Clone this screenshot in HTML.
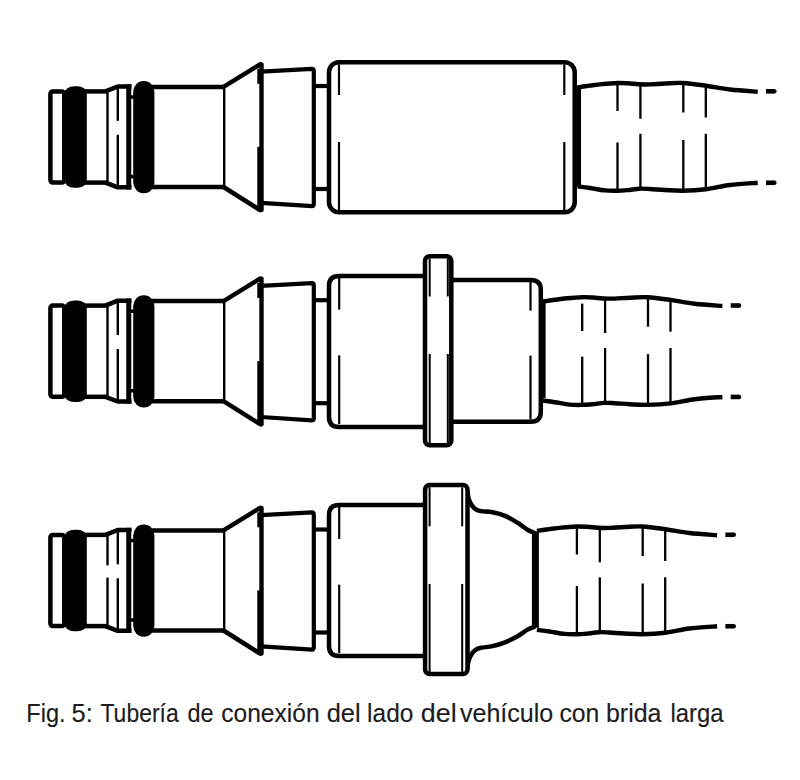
<!DOCTYPE html>
<html><head><meta charset="utf-8"><style>
html,body{margin:0;padding:0;background:#fff;}
body{width:800px;height:780px;overflow:hidden;}
svg{display:block;}
</style></head><body>
<svg width="800" height="780" viewBox="0 0 800 780">
<rect x="0" y="0" width="800" height="780" fill="#fff"/>
<g stroke="#000" fill="none">
<rect x="50.4" y="91.4" width="13.9" height="91.2" rx="2.5" stroke-width="4.5" fill="none"/>
<rect x="64.6" y="86.2" width="22.2" height="101.6" rx="9.5" ry="7" stroke="none" fill="#000"/>
<line x1="84" y1="91.4" x2="107.6" y2="91.4" stroke-width="4.5" stroke-linecap="butt"/>
<line x1="84" y1="182.6" x2="107.6" y2="182.6" stroke-width="4.5" stroke-linecap="butt"/>
<line x1="107.5" y1="91.4" x2="107.5" y2="182.6" stroke-width="2.4" stroke-linecap="butt"/>
<path d="M105.5 91.4 L117.7 86.5 L131.5 86.5" stroke-width="4.5" fill="none" stroke-linejoin="round"/>
<path d="M105.5 182.6 L117.7 187.3 L131.5 187.3" stroke-width="4.5" fill="none" stroke-linejoin="round"/>
<line x1="128.75" y1="84.3" x2="128.75" y2="189.5" stroke-width="5" stroke-linecap="butt"/>
<line x1="117.8" y1="86.5" x2="117.8" y2="120.8" stroke-width="2.4" stroke-linecap="butt"/>
<line x1="117.8" y1="134.8" x2="117.8" y2="187.3" stroke-width="2.4" stroke-linecap="butt"/>
<rect x="130" y="95.3" width="4.5" height="3.5" stroke="none" fill="#000"/>
<rect x="130" y="174.8" width="4.5" height="3.5" stroke="none" fill="#000"/>
<rect x="133.2" y="81" width="21.2" height="112.2" rx="10.4" ry="11" stroke="none" fill="#000"/>
<line x1="152" y1="86.9" x2="225" y2="86.9" stroke-width="4.5" stroke-linecap="butt"/>
<line x1="152" y1="187" x2="225" y2="187" stroke-width="4.5" stroke-linecap="butt"/>
<line x1="224.2" y1="86.9" x2="224.2" y2="187" stroke-width="2.4" stroke-linecap="butt"/>
<path d="M223.5 86.9 L260 64.4" stroke-width="4.5" fill="none" stroke-linecap="round"/>
<path d="M223.5 187 L260 210" stroke-width="4.5" fill="none" stroke-linecap="round"/>
<line x1="261.5" y1="64.4" x2="261.5" y2="210" stroke-width="4.4" stroke-linecap="round"/>
<rect x="257.3" y="68.8" width="2.7" height="15" stroke="none" fill="#000"/>
<rect x="257.3" y="146.9" width="2.7" height="63.1" stroke="none" fill="#000"/>
<path d="M261 71.6 L312 68.9 Q313.8 68.9 313.8 71.3 L313.8 203.8 Q313.8 206.1 312 206.1 L261 202.8" stroke-width="4.2" fill="none" stroke-linejoin="round"/>
<line x1="313" y1="86" x2="330" y2="86" stroke-width="4.2" stroke-linecap="butt"/>
<line x1="313" y1="189" x2="330" y2="189" stroke-width="4.2" stroke-linecap="butt"/>
<rect x="329" y="62.2" width="245.7" height="150.1" rx="10" stroke-width="4.5" fill="none"/>
<line x1="339" y1="64.4" x2="339" y2="95" stroke-width="2.2" stroke-linecap="butt"/>
<line x1="339" y1="142" x2="339" y2="210.1" stroke-width="2.2" stroke-linecap="butt"/>
<line x1="564.3" y1="64.4" x2="564.3" y2="95" stroke-width="2.2" stroke-linecap="butt"/>
<line x1="564.3" y1="142" x2="564.3" y2="210.1" stroke-width="2.2" stroke-linecap="butt"/>
<path d="M577.5 87.4 C579.58 87.1 585.92 86.15 590 85.6 C594.08 85.05 597.5 84.53 602 84.1 C606.5 83.67 612.67 83.13 617 83 C621.33 82.87 624.42 83.08 628 83.3 C631.58 83.52 634.83 84.12 638.5 84.3 C642.17 84.48 645.58 84.53 650 84.4 C654.42 84.27 659.5 83.73 665 83.5 C670.5 83.27 676.17 82.63 683 83 C689.83 83.37 698.17 84.62 706 85.7 C713.83 86.78 721.38 88.48 730 89.5 C738.62 90.52 753.08 91.42 757.7 91.8" stroke-width="4.4" fill="none"/>
<path d="M577.5 186.3 C579.58 186.58 585.42 187.32 590 188 C594.58 188.68 600.5 189.95 605 190.4 C609.5 190.85 613.25 190.75 617 190.7 C620.75 190.65 623.75 190.43 627.5 190.1 C631.25 189.77 635.75 188.88 639.5 188.7 C643.25 188.52 645.75 188.78 650 189 C654.25 189.22 659.5 189.72 665 190 C670.5 190.28 676.17 190.83 683 190.7 C689.83 190.57 698.17 190.15 706 189.2 C713.83 188.25 721.38 186.07 730 185 C738.62 183.93 753.08 183.12 757.7 182.75" stroke-width="4.4" fill="none"/>
<line x1="766" y1="91.3" x2="774.3" y2="91.3" stroke-width="4.6" stroke-linecap="butt"/>
<circle cx="774.3" cy="91.3" r="2.3" stroke="none" fill="#000"/>
<line x1="766" y1="182.75" x2="774.3" y2="182.75" stroke-width="4.6" stroke-linecap="butt"/>
<circle cx="774.3" cy="182.75" r="2.3" stroke="none" fill="#000"/>
<line x1="578.7" y1="86.2" x2="578.7" y2="186.2" stroke-width="4.6" stroke-linecap="butt"/>
<line x1="617.5" y1="84.8" x2="617.5" y2="111" stroke-width="2.3" stroke-linecap="butt"/>
<line x1="617.5" y1="142.5" x2="617.5" y2="189.8" stroke-width="2.3" stroke-linecap="butt"/>
<line x1="640.4" y1="85.8" x2="640.4" y2="118.8" stroke-width="2.3" stroke-linecap="butt"/>
<line x1="640.4" y1="133.8" x2="640.4" y2="187.3" stroke-width="2.3" stroke-linecap="butt"/>
<line x1="683.3" y1="83.8" x2="683.3" y2="112.5" stroke-width="2.3" stroke-linecap="butt"/>
<line x1="683.3" y1="140" x2="683.3" y2="190.8" stroke-width="2.3" stroke-linecap="butt"/>
<line x1="705.8" y1="84.8" x2="705.8" y2="117.5" stroke-width="2.3" stroke-linecap="butt"/>
<line x1="705.8" y1="133.8" x2="705.8" y2="188.8" stroke-width="2.3" stroke-linecap="butt"/>
<rect x="50.4" y="305.6" width="13.9" height="91.2" rx="2.5" stroke-width="4.5" fill="none"/>
<rect x="64.6" y="300.4" width="22.2" height="101.6" rx="9.5" ry="7" stroke="none" fill="#000"/>
<line x1="84" y1="305.6" x2="107.6" y2="305.6" stroke-width="4.5" stroke-linecap="butt"/>
<line x1="84" y1="396.8" x2="107.6" y2="396.8" stroke-width="4.5" stroke-linecap="butt"/>
<line x1="107.5" y1="305.6" x2="107.5" y2="396.8" stroke-width="2.4" stroke-linecap="butt"/>
<path d="M105.5 305.6 L117.7 300.7 L131.5 300.7" stroke-width="4.5" fill="none" stroke-linejoin="round"/>
<path d="M105.5 396.8 L117.7 401.5 L131.5 401.5" stroke-width="4.5" fill="none" stroke-linejoin="round"/>
<line x1="128.75" y1="298.5" x2="128.75" y2="403.7" stroke-width="5" stroke-linecap="butt"/>
<line x1="117.8" y1="300.7" x2="117.8" y2="335" stroke-width="2.4" stroke-linecap="butt"/>
<line x1="117.8" y1="349" x2="117.8" y2="401.5" stroke-width="2.4" stroke-linecap="butt"/>
<rect x="130" y="309.5" width="4.5" height="3.5" stroke="none" fill="#000"/>
<rect x="130" y="389" width="4.5" height="3.5" stroke="none" fill="#000"/>
<rect x="133.2" y="295.2" width="21.2" height="112.2" rx="10.4" ry="11" stroke="none" fill="#000"/>
<line x1="152" y1="301.1" x2="225" y2="301.1" stroke-width="4.5" stroke-linecap="butt"/>
<line x1="152" y1="401.2" x2="225" y2="401.2" stroke-width="4.5" stroke-linecap="butt"/>
<line x1="224.2" y1="301.1" x2="224.2" y2="401.2" stroke-width="2.4" stroke-linecap="butt"/>
<path d="M223.5 301.1 L260 278.6" stroke-width="4.5" fill="none" stroke-linecap="round"/>
<path d="M223.5 401.2 L260 424.2" stroke-width="4.5" fill="none" stroke-linecap="round"/>
<line x1="261.5" y1="278.6" x2="261.5" y2="424.2" stroke-width="4.4" stroke-linecap="round"/>
<rect x="257.3" y="283" width="2.7" height="15" stroke="none" fill="#000"/>
<rect x="257.3" y="361.1" width="2.7" height="63.1" stroke="none" fill="#000"/>
<path d="M261 285.8 L312 283.1 Q313.8 283.1 313.8 285.5 L313.8 418 Q313.8 420.3 312 420.3 L261 417" stroke-width="4.2" fill="none" stroke-linejoin="round"/>
<line x1="313" y1="300.2" x2="330" y2="300.2" stroke-width="4.2" stroke-linecap="butt"/>
<line x1="313" y1="403.2" x2="330" y2="403.2" stroke-width="4.2" stroke-linecap="butt"/>
<path d="M425 276 L339 276 Q329 276 329 286 L329 416.9 Q329 426.9 339 426.9 L425 426.9" stroke-width="4.5" fill="none"/>
<line x1="339.2" y1="277" x2="339.2" y2="309.6" stroke-width="2.2" stroke-linecap="butt"/>
<line x1="339.2" y1="355.4" x2="339.2" y2="424" stroke-width="2.2" stroke-linecap="butt"/>
<path d="M451 279.9 L530.8 279.9 Q540.8 279.9 540.8 289.9 L540.8 411.7 Q540.8 421.7 530.8 421.7 L451 421.7" stroke-width="4.5" fill="none"/>
<line x1="530.5" y1="281.5" x2="530.5" y2="310.6" stroke-width="2.2" stroke-linecap="butt"/>
<line x1="530.5" y1="355.6" x2="530.5" y2="419.5" stroke-width="2.2" stroke-linecap="butt"/>
<rect x="425" y="256.3" width="26.3" height="189" rx="4.5" stroke-width="4.5" fill="#fff"/>
<line x1="429.7" y1="258.5" x2="429.7" y2="296.5" stroke-width="2" stroke-linecap="butt"/>
<line x1="429.7" y1="354" x2="429.7" y2="444" stroke-width="2" stroke-linecap="butt"/>
<line x1="447.8" y1="258.5" x2="447.8" y2="296.5" stroke-width="2" stroke-linecap="butt"/>
<line x1="447.8" y1="354" x2="447.8" y2="444" stroke-width="2" stroke-linecap="butt"/>
<path d="M542.2 301.6 C544.28 301.3 550.62 300.35 554.7 299.8 C558.78 299.25 562.2 298.73 566.7 298.3 C571.2 297.87 577.37 297.33 581.7 297.2 C586.03 297.07 589.12 297.28 592.7 297.5 C596.28 297.72 599.53 298.32 603.2 298.5 C606.87 298.68 610.28 298.73 614.7 298.6 C619.12 298.47 624.2 297.93 629.7 297.7 C635.2 297.47 640.87 296.83 647.7 297.2 C654.53 297.57 662.87 298.82 670.7 299.9 C678.53 300.98 686.08 302.68 694.7 303.7 C703.32 304.72 717.78 305.62 722.4 306" stroke-width="4.4" fill="none"/>
<path d="M542.2 400.5 C544.28 400.78 550.12 401.52 554.7 402.2 C559.28 402.88 565.2 404.15 569.7 404.6 C574.2 405.05 577.95 404.95 581.7 404.9 C585.45 404.85 588.45 404.63 592.2 404.3 C595.95 403.97 600.45 403.08 604.2 402.9 C607.95 402.72 610.45 402.98 614.7 403.2 C618.95 403.42 624.2 403.92 629.7 404.2 C635.2 404.48 640.87 405.03 647.7 404.9 C654.53 404.77 662.87 404.35 670.7 403.4 C678.53 402.45 686.08 400.27 694.7 399.2 C703.32 398.12 717.78 397.32 722.4 396.95" stroke-width="4.4" fill="none"/>
<line x1="730.7" y1="305.5" x2="739" y2="305.5" stroke-width="4.6" stroke-linecap="butt"/>
<circle cx="739" cy="305.5" r="2.3" stroke="none" fill="#000"/>
<line x1="730.7" y1="396.95" x2="739" y2="396.95" stroke-width="4.6" stroke-linecap="butt"/>
<circle cx="739" cy="396.95" r="2.3" stroke="none" fill="#000"/>
<line x1="543.3" y1="299.4" x2="543.3" y2="398" stroke-width="4.6" stroke-linecap="butt"/>
<line x1="582.2" y1="303.6" x2="582.2" y2="331" stroke-width="2.3" stroke-linecap="butt"/>
<line x1="582.2" y1="356.7" x2="582.2" y2="404" stroke-width="2.3" stroke-linecap="butt"/>
<line x1="605.1" y1="300" x2="605.1" y2="333" stroke-width="2.3" stroke-linecap="butt"/>
<line x1="605.1" y1="348" x2="605.1" y2="401.5" stroke-width="2.3" stroke-linecap="butt"/>
<line x1="648" y1="298" x2="648" y2="326.7" stroke-width="2.3" stroke-linecap="butt"/>
<line x1="648" y1="354.2" x2="648" y2="405" stroke-width="2.3" stroke-linecap="butt"/>
<line x1="670.5" y1="299" x2="670.5" y2="331.7" stroke-width="2.3" stroke-linecap="butt"/>
<line x1="670.5" y1="348" x2="670.5" y2="403" stroke-width="2.3" stroke-linecap="butt"/>
<rect x="50.4" y="534.9" width="13.9" height="91.2" rx="2.5" stroke-width="4.5" fill="none"/>
<rect x="64.6" y="529.7" width="22.2" height="101.6" rx="9.5" ry="7" stroke="none" fill="#000"/>
<line x1="84" y1="534.9" x2="107.6" y2="534.9" stroke-width="4.5" stroke-linecap="butt"/>
<line x1="84" y1="626.1" x2="107.6" y2="626.1" stroke-width="4.5" stroke-linecap="butt"/>
<line x1="107.5" y1="534.9" x2="107.5" y2="626.1" stroke-width="2.4" stroke-linecap="butt"/>
<path d="M105.5 534.9 L117.7 530 L131.5 530" stroke-width="4.5" fill="none" stroke-linejoin="round"/>
<path d="M105.5 626.1 L117.7 630.8 L131.5 630.8" stroke-width="4.5" fill="none" stroke-linejoin="round"/>
<line x1="128.75" y1="527.8" x2="128.75" y2="633" stroke-width="5" stroke-linecap="butt"/>
<line x1="117.8" y1="530" x2="117.8" y2="564.3" stroke-width="2.4" stroke-linecap="butt"/>
<line x1="117.8" y1="578.3" x2="117.8" y2="630.8" stroke-width="2.4" stroke-linecap="butt"/>
<rect x="105.8" y="565.3" width="3.4" height="12.3" stroke="none" fill="#fff"/>
<rect x="130" y="538.8" width="4.5" height="3.5" stroke="none" fill="#000"/>
<rect x="130" y="618.3" width="4.5" height="3.5" stroke="none" fill="#000"/>
<rect x="133.2" y="524.5" width="21.2" height="112.2" rx="10.4" ry="11" stroke="none" fill="#000"/>
<line x1="152" y1="530.4" x2="225" y2="530.4" stroke-width="4.5" stroke-linecap="butt"/>
<line x1="152" y1="630.5" x2="225" y2="630.5" stroke-width="4.5" stroke-linecap="butt"/>
<line x1="224.2" y1="530.4" x2="224.2" y2="630.5" stroke-width="2.4" stroke-linecap="butt"/>
<path d="M223.5 530.4 L260 507.9" stroke-width="4.5" fill="none" stroke-linecap="round"/>
<path d="M223.5 630.5 L260 653.5" stroke-width="4.5" fill="none" stroke-linecap="round"/>
<line x1="261.5" y1="507.9" x2="261.5" y2="653.5" stroke-width="4.4" stroke-linecap="round"/>
<rect x="257.3" y="512.3" width="2.7" height="15" stroke="none" fill="#000"/>
<rect x="257.3" y="590.4" width="2.7" height="63.1" stroke="none" fill="#000"/>
<path d="M261 515.1 L312 512.4 Q313.8 512.4 313.8 514.8 L313.8 647.3 Q313.8 649.6 312 649.6 L261 646.3" stroke-width="4.2" fill="none" stroke-linejoin="round"/>
<line x1="313" y1="529.5" x2="330" y2="529.5" stroke-width="4.2" stroke-linecap="butt"/>
<line x1="313" y1="632.5" x2="330" y2="632.5" stroke-width="4.2" stroke-linecap="butt"/>
<path d="M425 505 L339 505 Q329 505 329 515 L329 645.9 Q329 655.9 339 655.9 L425 655.9" stroke-width="4.5" fill="none"/>
<line x1="339.2" y1="506.3" x2="339.2" y2="538.9" stroke-width="2.2" stroke-linecap="butt"/>
<line x1="339.2" y1="584.7" x2="339.2" y2="653.3" stroke-width="2.2" stroke-linecap="butt"/>
<path d="M467.4 491.3 C467.6 492.47 467.92 496.05 468.6 498.3 C469.28 500.55 470.35 503 471.5 504.8 C472.65 506.6 473.92 508.05 475.5 509.1 C477.08 510.15 478.17 510.57 481 511.1 C483.83 511.63 488.5 511.52 492.5 512.3 C496.5 513.08 500.83 514.07 505 515.8 C509.17 517.53 513.75 520.38 517.5 522.7 C521.25 525.02 524.58 527.97 527.5 529.7 C530.42 531.43 533.75 532.53 535 533.1" stroke-width="4.5" fill="none"/>
<path d="M467.4 667.8 C467.6 666.63 467.92 663.05 468.6 660.8 C469.28 658.55 470.35 656.12 471.5 654.3 C472.65 652.48 473.92 650.98 475.5 649.9 C477.08 648.82 478.17 648.43 481 647.8 C483.83 647.17 488.5 647.02 492.5 646.1 C496.5 645.18 500.83 643.93 505 642.3 C509.17 640.67 513.75 638.42 517.5 636.3 C521.25 634.18 524.58 631.22 527.5 629.6 C530.42 627.98 533.75 627.1 535 626.6" stroke-width="4.5" fill="none"/>
<rect x="425.1" y="485.1" width="42.4" height="189" rx="4.5" stroke-width="4.5" fill="#fff"/>
<line x1="429.6" y1="487.3" x2="429.6" y2="526.3" stroke-width="2" stroke-linecap="butt"/>
<line x1="429.6" y1="584" x2="429.6" y2="673.1" stroke-width="2" stroke-linecap="butt"/>
<line x1="462.2" y1="487.3" x2="462.2" y2="526.3" stroke-width="2" stroke-linecap="butt"/>
<line x1="462.2" y1="584" x2="462.2" y2="673.1" stroke-width="2" stroke-linecap="butt"/>
<path d="M536.9 530.9 C538.98 530.6 545.32 529.65 549.4 529.1 C553.48 528.55 556.9 528.03 561.4 527.6 C565.9 527.17 572.07 526.63 576.4 526.5 C580.73 526.37 583.82 526.58 587.4 526.8 C590.98 527.02 594.23 527.62 597.9 527.8 C601.57 527.98 604.98 528.03 609.4 527.9 C613.82 527.77 618.9 527.23 624.4 527 C629.9 526.77 635.57 526.13 642.4 526.5 C649.23 526.87 657.57 528.12 665.4 529.2 C673.23 530.28 680.78 531.98 689.4 533 C698.02 534.02 712.48 534.92 717.1 535.3" stroke-width="4.4" fill="none"/>
<path d="M536.9 629.8 C538.98 630.08 544.82 630.82 549.4 631.5 C553.98 632.18 559.9 633.45 564.4 633.9 C568.9 634.35 572.65 634.25 576.4 634.2 C580.15 634.15 583.15 633.93 586.9 633.6 C590.65 633.27 595.15 632.38 598.9 632.2 C602.65 632.02 605.15 632.28 609.4 632.5 C613.65 632.72 618.9 633.22 624.4 633.5 C629.9 633.78 635.57 634.33 642.4 634.2 C649.23 634.07 657.57 633.65 665.4 632.7 C673.23 631.75 680.78 629.58 689.4 628.5 C698.02 627.42 712.48 626.62 717.1 626.25" stroke-width="4.4" fill="none"/>
<line x1="725.4" y1="534.8" x2="733.7" y2="534.8" stroke-width="4.6" stroke-linecap="butt"/>
<circle cx="733.7" cy="534.8" r="2.3" stroke="none" fill="#000"/>
<line x1="725.4" y1="626.25" x2="733.7" y2="626.25" stroke-width="4.6" stroke-linecap="butt"/>
<circle cx="733.7" cy="626.25" r="2.3" stroke="none" fill="#000"/>
<line x1="535.4" y1="531.3" x2="535.4" y2="627.8" stroke-width="7" stroke-linecap="butt"/>
<line x1="576.9" y1="528.3" x2="576.9" y2="554.5" stroke-width="2.3" stroke-linecap="butt"/>
<line x1="576.9" y1="586" x2="576.9" y2="633.3" stroke-width="2.3" stroke-linecap="butt"/>
<line x1="599.8" y1="529.3" x2="599.8" y2="562.3" stroke-width="2.3" stroke-linecap="butt"/>
<line x1="599.8" y1="577.3" x2="599.8" y2="630.8" stroke-width="2.3" stroke-linecap="butt"/>
<line x1="642.7" y1="527.3" x2="642.7" y2="556" stroke-width="2.3" stroke-linecap="butt"/>
<line x1="642.7" y1="583.5" x2="642.7" y2="634.3" stroke-width="2.3" stroke-linecap="butt"/>
<line x1="665.2" y1="528.3" x2="665.2" y2="561" stroke-width="2.3" stroke-linecap="butt"/>
<line x1="665.2" y1="577.3" x2="665.2" y2="632.3" stroke-width="2.3" stroke-linecap="butt"/>
</g>
<g font-family="Liberation Sans, sans-serif" font-size="25.5" fill="#1e1c1d" stroke="#1e1c1d" stroke-width="0.15">
<text transform="translate(26.31 722) scale(0.9252 1)" x="0" y="0">Fig.</text>
<text transform="translate(71.5 722) scale(1.0000 1)" x="0" y="0">5:</text>
<text transform="translate(100.46 722) scale(0.8999 1)" x="0" y="0">Tubería</text>
<text transform="translate(187.49 722) scale(0.9195 1)" x="0" y="0">de</text>
<text transform="translate(221.19 722) scale(0.9642 1)" x="0" y="0">conexión</text>
<text transform="translate(326.65 722) scale(0.9984 1)" x="0" y="0">del</text>
<text transform="translate(367.12 722) scale(0.9581 1)" x="0" y="0">lado</text>
<text transform="translate(420.84 722) scale(1.0543 1)" x="0" y="0">del</text>
<text transform="translate(459.9 722) scale(0.9835 1)" x="0" y="0">vehículo</text>
<text transform="translate(559.43 722) scale(0.9726 1)" x="0" y="0">con</text>
<text transform="translate(605.93 722) scale(0.9800 1)" x="0" y="0">brida</text>
<text transform="translate(670.41 722) scale(0.9364 1)" x="0" y="0">larga</text>
</g>
</svg>
</body></html>
